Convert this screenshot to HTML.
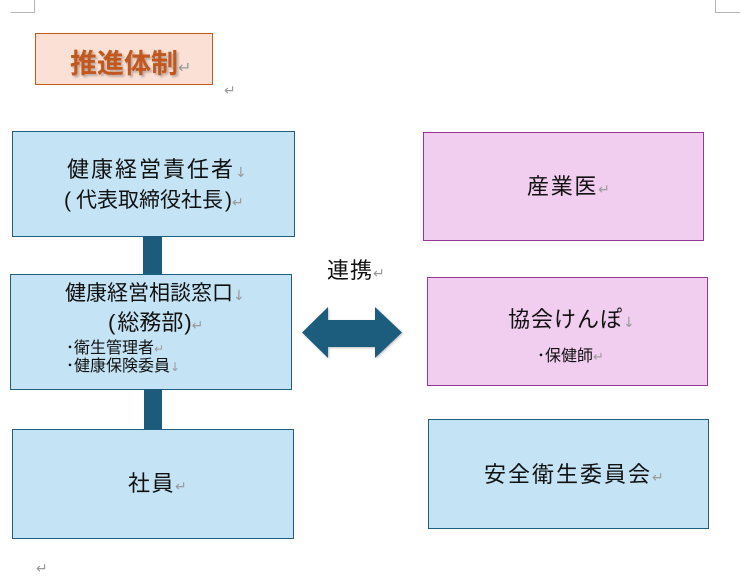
<!DOCTYPE html>
<html><head><meta charset="utf-8">
<style>
html,body{margin:0;padding:0;background:#fff;}
body{width:741px;height:576px;position:relative;overflow:hidden;font-family:"Liberation Sans","Noto Sans CJK JP",sans-serif;color:#111;}
.a{position:absolute;}
.box{position:absolute;box-sizing:border-box;border:1px solid #1f5f80;background:#c4e3f4;}
.pink{border-color:#963a96;background:#f1cdef;}
.t{position:absolute;white-space:nowrap;font-size:22px;line-height:22px;}
.m{color:#9a9a9a;font-family:"DejaVu Sans",sans-serif;font-size:14px;letter-spacing:0;}
.s{font-size:16px;line-height:16px;}
.dot{font-family:"Noto Sans CJK JP",sans-serif;}
.bar{position:absolute;background:#1d5b7c;}
</style></head><body>
<!-- corner marks -->
<div class="a" style="left:34px;top:0;width:1px;height:13px;background:#b5b5b5"></div>
<div class="a" style="left:11px;top:12px;width:24px;height:1px;background:#b5b5b5"></div>
<div class="a" style="left:715px;top:0;width:1px;height:13px;background:#b5b5b5"></div>
<div class="a" style="left:715px;top:12px;width:25px;height:1px;background:#b5b5b5"></div>

<!-- title -->
<div class="box" style="left:35px;top:33px;width:178px;height:52px;background:#fbe1d5;border-color:#c55a1a"></div>
<div class="t" style="left:70px;top:51px;font-size:27px;line-height:27px;font-weight:bold;color:#c2581d;text-shadow:2px 2px 2px rgba(0,0,0,0.25)">推進体制<span class="m" style="font-size:16px;font-weight:normal;text-shadow:none">↵</span></div>
<div class="t m" style="left:224px;top:80px">↵</div>

<!-- left column -->
<div class="box" style="left:12px;top:131px;width:283px;height:106px"></div>
<div class="t" style="left:67px;top:159px;letter-spacing:2px">健康経営責任者<span class="m">↓</span></div>
<div class="t" style="left:64px;top:190px;font-size:21px;line-height:21px"><span style="margin-right:5px">(</span>代表取締役社長<span style="margin-left:2px">)</span><span class="m">↵</span></div>

<div class="bar" style="left:143px;top:236px;width:19px;height:39px"></div>

<div class="box" style="left:10px;top:274px;width:282px;height:116px"></div>
<div class="t" style="left:65px;top:283px;font-size:21px;line-height:21px">健康経営相談窓口<span class="m">↓</span></div>
<div class="t" style="left:108px;top:312px"><span style="margin-right:2px">(</span>総務部<span style="margin-left:1px">)</span><span class="m">↵</span></div>
<div class="t s" style="left:66px;top:338px"><span class="dot">･</span>衛生管理者<span class="m" style="font-size:12px">↵</span></div>
<div class="t s" style="left:66px;top:356px"><span class="dot">･</span>健康保険委員<span class="m" style="font-size:12px">↓</span></div>

<div class="bar" style="left:144px;top:389px;width:18px;height:40px"></div>

<div class="box" style="left:12px;top:429px;width:282px;height:110px"></div>
<div class="t" style="left:128px;top:473px;letter-spacing:1.5px">社員<span class="m">↵</span></div>

<div class="t m" style="left:36px;top:558px">↵</div>

<!-- arrow -->
<svg class="a" style="left:0;top:0" width="741" height="576">
<defs><filter id="sh" x="-10%" y="-10%" width="130%" height="130%"><feDropShadow dx="1" dy="1" stdDeviation="1" flood-color="#000" flood-opacity="0.25"/></filter></defs>
<polygon points="302,332.5 328,307 328,320 375,320 375,307 402,332.5 375,358 375,347 328,347 328,358" fill="#1d5b7c" filter="url(#sh)"/>
</svg>
<div class="t" style="left:327px;top:260px;letter-spacing:1px">連携<span class="m">↵</span></div>

<!-- right column -->
<div class="box pink" style="left:423px;top:132px;width:281px;height:109px"></div>
<div class="t" style="left:527px;top:176px;letter-spacing:1.7px">産業医<span class="m">↵</span></div>

<div class="box pink" style="left:427px;top:277px;width:281px;height:109px"></div>
<div class="t" style="left:508px;top:309px;letter-spacing:1px">協会けんぽ<span class="m">↓</span></div>
<div class="t s" style="left:537px;top:346px"><span class="dot">･</span>保健師<span class="m" style="font-size:13px">↵</span></div>

<div class="box" style="left:428px;top:419px;width:281px;height:110px"></div>
<div class="t" style="left:484px;top:464px;letter-spacing:2px">安全衛生委員会<span class="m">↵</span></div>
</body></html>
